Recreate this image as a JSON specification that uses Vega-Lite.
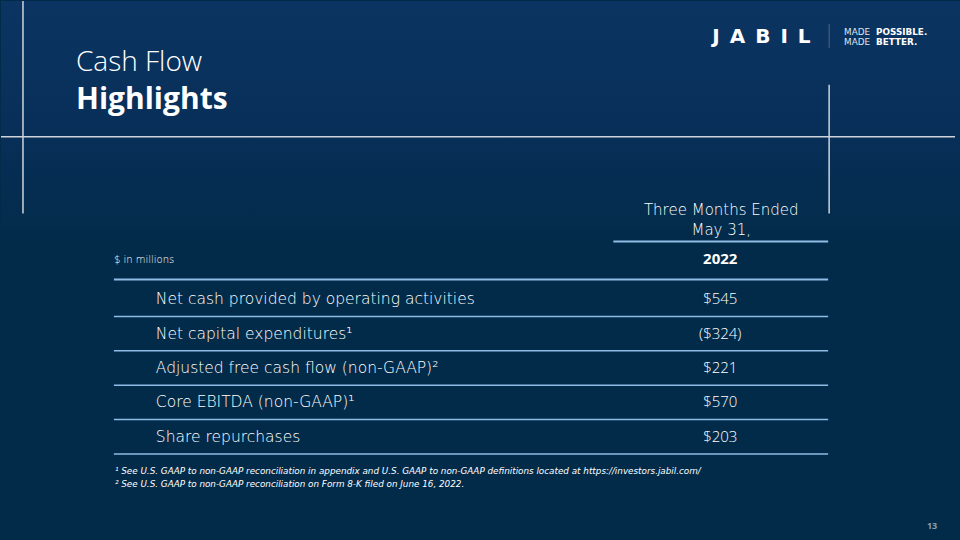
{
  "$schema": "https://vega.github.io/schema/vega-lite/v6.json",
  "width": 960,
  "height": 540,
  "autosize": {"type": "fit", "contains": "padding"},
  "padding": 0,
  "background": "#022b4a",
  "config": {"view": {"stroke": null}, "text": {"font": "Open Sans", "color": "#ffffff"}},
  "data": {"values": [{"slide": 13}]},
  "datasets": {
    "rows": [
      {"item": "Net cash provided by operating activities", "value": "$545"},
      {"item": "Net capital expenditures¹", "value": "($324)"},
      {"item": "Adjusted free cash flow (non-GAAP)²", "value": "$221"},
      {"item": "Core EBITDA (non-GAAP)¹", "value": "$570"},
      {"item": "Share repurchases", "value": "$203"}
    ]
  },
  "resolve": {"scale": {"y": "independent"}},
  "layer": [
    {
      "mark": {"type": "rect", "fill": {"gradient": "linear", "x1": 0, "y1": 0, "x2": 0, "y2": 1, "stops": [{"offset": 0, "color": "#0b3462"}, {"offset": 0.25, "color": "#072f58"}, {"offset": 0.45, "color": "#022b4a"}, {"offset": 1, "color": "#022b4a"}]}},
      "encoding": {
        "x": {"datum": 0, "type": "quantitative", "scale": {"domain": [0, 960], "nice": false, "zero": false}, "axis": null},
        "x2": {"datum": 960},
        "y": {"datum": 0, "type": "quantitative", "scale": {"domain": [0, 540], "reverse": true, "nice": false, "zero": false}, "axis": null},
        "y2": {"datum": 540}
      }
    },
    {
      "mark": {"type": "rule", "color": "#cfd4db", "strokeWidth": 1.5},
      "encoding": {
        "x": {"datum": 0, "type": "quantitative", "scale": {"domain": [0, 960], "nice": false, "zero": false}, "axis": null},
        "x2": {"datum": 955},
        "y": {"datum": 136, "type": "quantitative", "scale": {"domain": [0, 540], "reverse": true, "nice": false, "zero": false}, "axis": null}
      }
    },
    {
      "mark": {"type": "rule", "color": "#cfd4db", "strokeWidth": 1.5},
      "encoding": {
        "x": {"datum": 22, "type": "quantitative", "scale": {"domain": [0, 960], "nice": false, "zero": false}, "axis": null},
        "y": {"datum": 0, "type": "quantitative", "scale": {"domain": [0, 540], "reverse": true, "nice": false, "zero": false}, "axis": null},
        "y2": {"datum": 213}
      }
    },
    {
      "mark": {"type": "rule", "color": "#cfd4db", "strokeWidth": 1.5},
      "encoding": {
        "x": {"datum": 829, "type": "quantitative", "scale": {"domain": [0, 960], "nice": false, "zero": false}, "axis": null},
        "y": {"datum": 84, "type": "quantitative", "scale": {"domain": [0, 540], "reverse": true, "nice": false, "zero": false}, "axis": null},
        "y2": {"datum": 213}
      }
    },
    {
      "mark": {"type": "text", "align": "left", "baseline": "alphabetic", "fontSize": 28, "fontWeight": 300},
      "encoding": {
        "x": {"datum": 75, "type": "quantitative", "scale": {"domain": [0, 960], "nice": false, "zero": false}, "axis": null},
        "y": {"datum": 70, "type": "quantitative", "scale": {"domain": [0, 540], "reverse": true, "nice": false, "zero": false}, "axis": null},
        "text": {"value": "Cash Flow"}
      }
    },
    {
      "mark": {"type": "text", "align": "left", "baseline": "alphabetic", "fontSize": 30, "fontWeight": "bold"},
      "encoding": {
        "x": {"datum": 75, "type": "quantitative", "scale": {"domain": [0, 960], "nice": false, "zero": false}, "axis": null},
        "y": {"datum": 108, "type": "quantitative", "scale": {"domain": [0, 540], "reverse": true, "nice": false, "zero": false}, "axis": null},
        "text": {"value": "Highlights"}
      }
    },
    {
      "mark": {"type": "text", "align": "left", "baseline": "middle", "fontSize": 20, "fontWeight": "bold", "font": "DejaVu Sans"},
      "encoding": {
        "x": {"datum": 712, "type": "quantitative", "scale": {"domain": [0, 960], "nice": false, "zero": false}, "axis": null},
        "y": {"datum": 36, "type": "quantitative", "scale": {"domain": [0, 540], "reverse": true, "nice": false, "zero": false}, "axis": null},
        "text": {"value": "J\u2002A\u2002B\u2002I\u2002L"}
      }
    },
    {
      "mark": {"type": "rule", "color": "#4f6784", "strokeWidth": 1},
      "encoding": {
        "x": {"datum": 829, "type": "quantitative", "scale": {"domain": [0, 960], "nice": false, "zero": false}, "axis": null},
        "y": {"datum": 23, "type": "quantitative", "scale": {"domain": [0, 540], "reverse": true, "nice": false, "zero": false}, "axis": null},
        "y2": {"datum": 47}
      }
    },
    {
      "mark": {"type": "text", "align": "left", "baseline": "middle", "fontSize": 8.8, "color": "#dfe5ee", "font": "DejaVu Sans"},
      "encoding": {
        "x": {"datum": 844, "type": "quantitative", "scale": {"domain": [0, 960], "nice": false, "zero": false}, "axis": null},
        "y": {"datum": 31, "type": "quantitative", "scale": {"domain": [0, 540], "reverse": true, "nice": false, "zero": false}, "axis": null},
        "text": {"value": "MADE"}
      }
    },
    {
      "mark": {"type": "text", "align": "left", "baseline": "middle", "fontSize": 8.8, "color": "#dfe5ee", "font": "DejaVu Sans"},
      "encoding": {
        "x": {"datum": 844, "type": "quantitative", "scale": {"domain": [0, 960], "nice": false, "zero": false}, "axis": null},
        "y": {"datum": 41, "type": "quantitative", "scale": {"domain": [0, 540], "reverse": true, "nice": false, "zero": false}, "axis": null},
        "text": {"value": "MADE"}
      }
    },
    {
      "mark": {"type": "text", "align": "left", "baseline": "middle", "fontSize": 8.8, "fontWeight": "bold", "font": "DejaVu Sans"},
      "encoding": {
        "x": {"datum": 876, "type": "quantitative", "scale": {"domain": [0, 960], "nice": false, "zero": false}, "axis": null},
        "y": {"datum": 31, "type": "quantitative", "scale": {"domain": [0, 540], "reverse": true, "nice": false, "zero": false}, "axis": null},
        "text": {"value": "POSSIBLE."}
      }
    },
    {
      "mark": {"type": "text", "align": "left", "baseline": "middle", "fontSize": 8.8, "fontWeight": "bold", "font": "DejaVu Sans"},
      "encoding": {
        "x": {"datum": 876, "type": "quantitative", "scale": {"domain": [0, 960], "nice": false, "zero": false}, "axis": null},
        "y": {"datum": 41, "type": "quantitative", "scale": {"domain": [0, 540], "reverse": true, "nice": false, "zero": false}, "axis": null},
        "text": {"value": "BETTER."}
      }
    },
    {
      "mark": {"type": "text", "align": "center", "baseline": "middle", "fontSize": 15, "font": "DejaVu Sans", "fontWeight": 300},
      "encoding": {
        "x": {"datum": 721, "type": "quantitative", "scale": {"domain": [0, 960], "nice": false, "zero": false}, "axis": null},
        "y": {"datum": 209, "type": "quantitative", "scale": {"domain": [0, 540], "reverse": true, "nice": false, "zero": false}, "axis": null},
        "text": {"value": "Three Months Ended"}
      }
    },
    {
      "mark": {"type": "text", "align": "center", "baseline": "middle", "fontSize": 15, "font": "DejaVu Sans", "fontWeight": 300},
      "encoding": {
        "x": {"datum": 721, "type": "quantitative", "scale": {"domain": [0, 960], "nice": false, "zero": false}, "axis": null},
        "y": {"datum": 229, "type": "quantitative", "scale": {"domain": [0, 540], "reverse": true, "nice": false, "zero": false}, "axis": null},
        "text": {"value": "May 31,"}
      }
    },
    {
      "mark": {"type": "rule", "color": "#8fbde6", "strokeWidth": 2},
      "encoding": {
        "x": {"datum": 613, "type": "quantitative", "scale": {"domain": [0, 960], "nice": false, "zero": false}, "axis": null},
        "x2": {"datum": 828},
        "y": {"datum": 241, "type": "quantitative", "scale": {"domain": [0, 540], "reverse": true, "nice": false, "zero": false}, "axis": null}
      }
    },
    {
      "mark": {"type": "text", "align": "center", "baseline": "middle", "fontSize": 15, "fontWeight": "bold"},
      "encoding": {
        "x": {"datum": 720, "type": "quantitative", "scale": {"domain": [0, 960], "nice": false, "zero": false}, "axis": null},
        "y": {"datum": 258, "type": "quantitative", "scale": {"domain": [0, 540], "reverse": true, "nice": false, "zero": false}, "axis": null},
        "text": {"value": "2022"}
      }
    },
    {
      "mark": {"type": "text", "align": "left", "baseline": "middle", "fontSize": 10, "font": "DejaVu Sans", "fontWeight": 300},
      "encoding": {
        "x": {"datum": 113, "type": "quantitative", "scale": {"domain": [0, 960], "nice": false, "zero": false}, "axis": null},
        "y": {"datum": 259, "type": "quantitative", "scale": {"domain": [0, 540], "reverse": true, "nice": false, "zero": false}, "axis": null},
        "text": {"value": "$ in millions"}
      }
    },
    {
      "mark": {"type": "rule", "color": "#8fbde6", "strokeWidth": 2},
      "encoding": {
        "x": {"datum": 113, "type": "quantitative", "scale": {"domain": [0, 960], "nice": false, "zero": false}, "axis": null},
        "x2": {"datum": 828},
        "y": {"datum": 279, "type": "quantitative", "scale": {"domain": [0, 540], "reverse": true, "nice": false, "zero": false}, "axis": null}
      }
    },
    {
      "data": {"name": "rows"},
      "encoding": {
        "y": {"field": "item", "type": "nominal", "sort": null, "scale": {"type": "band", "range": [281, 453], "paddingInner": 0, "paddingOuter": 0}, "axis": null}
      },
      "layer": [
        {
          "mark": {"type": "text", "align": "left", "baseline": "middle", "fontSize": 15.5, "font": "DejaVu Sans", "fontWeight": 300},
          "encoding": {
            "x": {"datum": 155, "type": "quantitative", "scale": {"domain": [0, 960], "nice": false, "zero": false}, "axis": null},
            "text": {"field": "item"}
          }
        },
        {
          "mark": {"type": "text", "align": "center", "baseline": "middle", "fontSize": 15, "fontWeight": 300},
          "encoding": {
            "x": {"datum": 720, "type": "quantitative", "scale": {"domain": [0, 960], "nice": false, "zero": false}, "axis": null},
            "text": {"field": "value"}
          }
        },
        {
          "mark": {"type": "rule", "color": "#8fbde6", "strokeWidth": 1.5},
          "encoding": {
            "x": {"datum": 113, "type": "quantitative", "scale": {"domain": [0, 960], "nice": false, "zero": false}, "axis": null},
            "x2": {"datum": 828},
            "y": {"field": "item", "type": "nominal", "sort": null, "bandPosition": 1, "scale": {"type": "band", "range": [281, 453], "paddingInner": 0, "paddingOuter": 0}, "axis": null}
          }
        }
      ]
    },
    {
      "mark": {"type": "text", "align": "left", "baseline": "middle", "fontSize": 8.8, "fontStyle": "italic", "fontWeight": 300, "font": "DejaVu Sans"},
      "encoding": {
        "x": {"datum": 114, "type": "quantitative", "scale": {"domain": [0, 960], "nice": false, "zero": false}, "axis": null},
        "y": {"datum": 471, "type": "quantitative", "scale": {"domain": [0, 540], "reverse": true, "nice": false, "zero": false}, "axis": null},
        "text": {"value": "¹ See U.S. GAAP to non-GAAP reconciliation in appendix and U.S. GAAP to non-GAAP definitions located at https://investors.jabil.com/"}
      }
    },
    {
      "mark": {"type": "text", "align": "left", "baseline": "middle", "fontSize": 8.8, "fontStyle": "italic", "fontWeight": 300, "font": "DejaVu Sans"},
      "encoding": {
        "x": {"datum": 114, "type": "quantitative", "scale": {"domain": [0, 960], "nice": false, "zero": false}, "axis": null},
        "y": {"datum": 484, "type": "quantitative", "scale": {"domain": [0, 540], "reverse": true, "nice": false, "zero": false}, "axis": null},
        "text": {"value": "² See U.S. GAAP to non-GAAP reconciliation on Form 8-K filed on June 16, 2022."}
      }
    },
    {
      "mark": {"type": "text", "align": "center", "baseline": "middle", "fontSize": 9, "fontWeight": "bold", "color": "#8d9cb0"},
      "encoding": {
        "x": {"datum": 932, "type": "quantitative", "scale": {"domain": [0, 960], "nice": false, "zero": false}, "axis": null},
        "y": {"datum": 526, "type": "quantitative", "scale": {"domain": [0, 540], "reverse": true, "nice": false, "zero": false}, "axis": null},
        "text": {"value": "13"}
      }
    }
  ]
}
